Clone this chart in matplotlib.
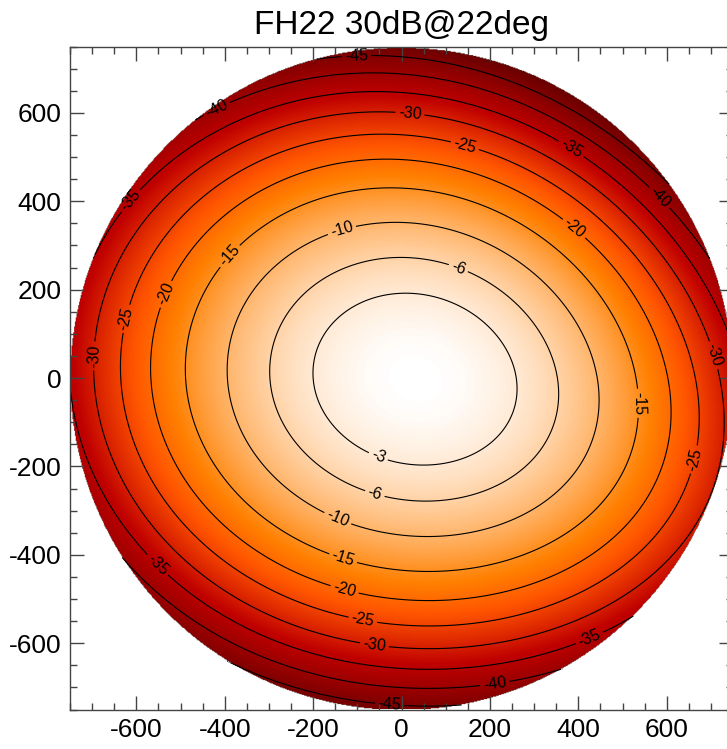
import numpy as np
import matplotlib
matplotlib.use("Agg")
import matplotlib.pyplot as plt
from matplotlib.ticker import MultipleLocator

plt.rcParams['font.family'] = ['Liberation Sans', 'DejaVu Sans']
plt.rcParams['axes.unicode_minus'] = False

title = "FH22 30dB@22deg"
levels = [-45, -40, -35, -30, -25, -20, -15, -10, -6, -3]
disk_radius = 750

# contour crossings: x, y (plot units) and level (dB)
top_y = [193, 257, 360, 427, 495, 551, 600, 649, 687, 725]
top_db = [-3, -6, -10, -15, -20, -25, -30, -35, -40, -45]
bottom_y = [-192, -275, -354, -434, -498, -558, -611, -660, -697, -739]
bottom_db = [-3, -6, -10, -15, -20, -25, -30, -35, -40, -45]
left_x = [-204, -299, -397, -487, -566, -631, -702]
left_db = [-3, -6, -10, -15, -20, -25, -30]
right_x = [256, 351, 441, 532, 603, 663, 724]
right_db = [-3, -6, -10, -15, -20, -25, -30]
peak_x, peak_y, peak_db = 25, 0, 0

# contour label positions (on their contours)
label_x = [-102, -27, -419, 584, 211, -611, 385, 425, -551, -698, 19, 701, -61,
           -619, 143, 664, -88, -532, 392, -129, -393, 541, -133, -136, -144,
           128, -61, -54]
label_y = [730, -742, 611, 408, -692, 400, 521, -588, -422, 50, 597, 50, -603,
           133, 525, -185, -550, 189, 340, -479, 280, -57, -411, 338, -317,
           247, -264, -181]
label_db = [-45, -45, -40, -40, -40, -35, -35, -35, -35, -30, -30, -30, -30,
            -25, -25, -25, -25, -20, -20, -20, -15, -15, -15, -10, -10,
            -6, -6, -3]

sx = np.array([-4] * len(top_y) + [0] * len(bottom_y) + left_x + right_x
              + label_x + [peak_x], float)
sy = np.array(top_y + bottom_y + [0] * len(left_x) + [0] * len(right_x)
              + label_y + [peak_y], float)
sd = np.array(top_db + bottom_db + left_db + right_db + label_db + [peak_db], float)


def design(x, y, deg=4):
    u, v = x / 750.0, y / 750.0
    cols = [u ** i * v ** j for i in range(deg + 1) for j in range(deg + 1 - i)]
    return np.stack(cols, axis=-1)


coef, *_ = np.linalg.lstsq(design(sx, sy), sd, rcond=None)

g = np.linspace(-750, 750, 801)
X, Y = np.meshgrid(g, g)
Z = np.minimum(design(X, Y) @ coef, 0)
Z = np.ma.masked_where(X ** 2 + (Y + 3) ** 2 > disk_radius ** 2, Z)

fig = plt.figure(figsize=(7.27, 7.49), dpi=100)
ax = fig.add_axes([70 / 727, (749 - 709.5) / 749, 663 / 727, 663 / 749])
ax.imshow(Z, extent=(-750, 750, -750, 750), origin='lower', cmap='gist_heat',
          vmin=-68, vmax=0, interpolation='bilinear', aspect='auto')
cs = ax.contour(X, Y, Z, levels=levels, colors='k', linewidths=0.8,
                linestyles='solid')
ax.clabel(cs, fmt='%d', fontsize=11.5, inline=True, inline_spacing=3,
          manual=list(zip(label_x, label_y)))

ax.set_xlim(-750, 750)
ax.set_ylim(-750, 750)
ax.xaxis.set_major_locator(MultipleLocator(200))
ax.yaxis.set_major_locator(MultipleLocator(200))
ax.xaxis.set_minor_locator(MultipleLocator(50))
ax.yaxis.set_minor_locator(MultipleLocator(50))
ax.tick_params(which='both', direction='in', top=True, right=True,
               color='#444444', width=1)
ax.tick_params(which='major', length=10, labelsize=19, pad=6)
ax.tick_params(which='minor', length=5)
for s in ax.spines.values():
    s.set_color('#444444')
    s.set_linewidth(1)
ax.set_title(title, fontsize=24, pad=9)

fig.savefig('out.png', dpi=100)
